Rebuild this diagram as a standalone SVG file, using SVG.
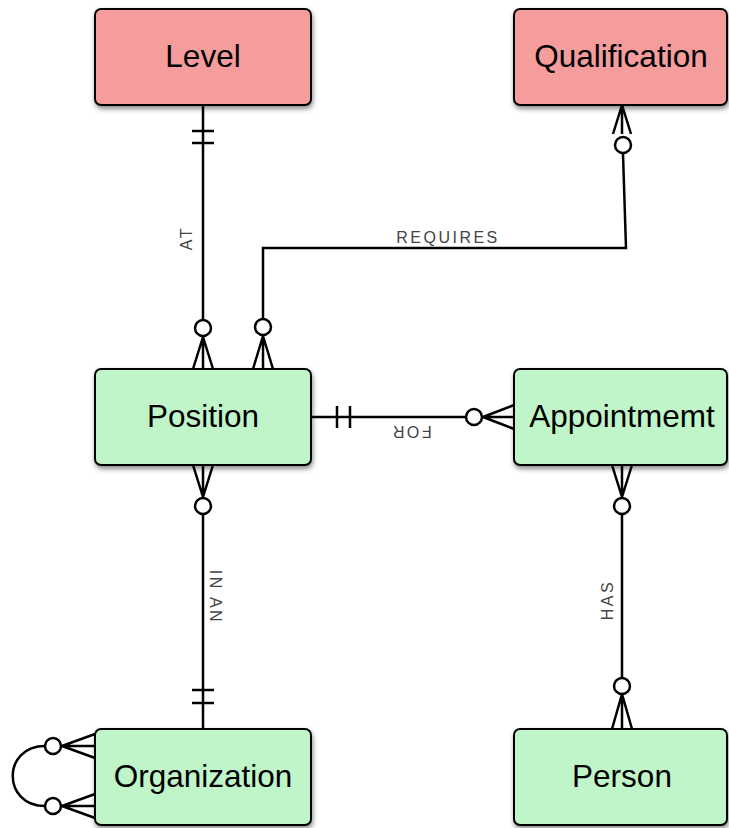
<svg xmlns="http://www.w3.org/2000/svg" width="729" height="828" viewBox="0 0 729 828">
<defs>
<filter id="sh" x="-10%" y="-10%" width="125%" height="130%">
<feDropShadow dx="1" dy="3" stdDeviation="2.5" flood-color="#000" flood-opacity="0.45"/>
</filter>
<style>
.box{stroke:#000;stroke-width:2}
.red{fill:#f59d9d}
.green{fill:#bff5c8}
.lbl{font-family:"Liberation Sans",Arial,sans-serif;font-size:31.5px;fill:#000;text-anchor:middle}
.ln{fill:none;stroke:#000;stroke-width:2.5}
.c{fill:#fff;stroke:#000;stroke-width:2.5}
.rl{font-family:"Liberation Sans",Arial,sans-serif;font-size:16px;fill:#444;text-anchor:middle;letter-spacing:2.5px}
</style>
</defs>
<rect width="729" height="828" fill="#fff"/>
<g id="connectors">
<g id="c-at">
<path class="ln" d="M203,105 V320 M192,131 H214 M192,143 H214 M203,337 L193,369 M203,337 V369 M203,337 L213,369"/>
<circle class="c" cx="203" cy="328" r="8"/>
<text class="rl" transform="translate(192,238) rotate(-90)">AT</text>
</g>
<g id="c-requires">
<path class="ln" d="M622,105 L613,134 M622,105 V134 M622,105 L631,134 M623,154 L626,248 H263 V319 M263,336 L253,369 M263,336 V369 M263,336 L273,369"/>
<circle class="c" cx="623" cy="145" r="8"/>
<circle class="c" cx="263" cy="327" r="8"/>
<text class="rl" x="448" y="243">REQUIRES</text>
</g>
<g id="c-for">
<path class="ln" d="M311,417 H466 M337,406 V428 M350,406 V428 M483,417 L514,405 M483,417 H514 M483,417 L514,429"/>
<circle class="c" cx="474" cy="417" r="8"/>
<text class="rl" transform="translate(411,426) rotate(180)">FOR</text>
</g>
<g id="c-inan">
<path class="ln" d="M203,497 L193,465 M203,497 V465 M203,497 L213,465 M203,514 V729 M192,690 H214 M192,703 H214"/>
<circle class="c" cx="203" cy="506" r="8"/>
<text class="rl" transform="translate(210,597) rotate(90)">IN AN</text>
</g>
<g id="c-has">
<path class="ln" d="M622,497 L612,465 M622,497 V465 M622,497 L632,465 M622,515 V678 M622,694 L612,729 M622,694 V729 M622,694 L632,729"/>
<circle class="c" cx="622" cy="506" r="8"/>
<circle class="c" cx="622" cy="686" r="8"/>
<text class="rl" transform="translate(613,600) rotate(-90)">HAS</text>
</g>
<g id="c-self">
<path class="ln" d="M62,746 L95,734 M62,746 H95 M62,746 L95,758 M62,806 L95,794 M62,806 H95 M62,806 L95,818 M45,746 C2,746 2,806 45,806"/>
<circle class="c" cx="53" cy="746" r="8"/>
<circle class="c" cx="53" cy="806" r="8"/>
</g>
</g>
<g id="level"><rect class="box red" x="95" y="9" width="216" height="96" rx="6" filter="url(#sh)"/><text class="lbl" x="203" y="67">Level</text></g>
<g id="qualification"><rect class="box red" x="514" y="9" width="213" height="96" rx="6" filter="url(#sh)"/><text class="lbl" x="621" y="67">Qualification</text></g>
<g id="position"><rect class="box green" x="95" y="369" width="216" height="96" rx="6" filter="url(#sh)"/><text class="lbl" x="203" y="427">Position</text></g>
<g id="appointmemt"><rect class="box green" x="514" y="369" width="213" height="96" rx="6" filter="url(#sh)"/><text class="lbl" x="622" y="427">Appointmemt</text></g>
<g id="organization"><rect class="box green" x="95" y="729" width="216" height="96" rx="6" filter="url(#sh)"/><text class="lbl" x="203" y="787">Organization</text></g>
<g id="person"><rect class="box green" x="514" y="729" width="213" height="96" rx="6" filter="url(#sh)"/><text class="lbl" x="622" y="787">Person</text></g>
</svg>
